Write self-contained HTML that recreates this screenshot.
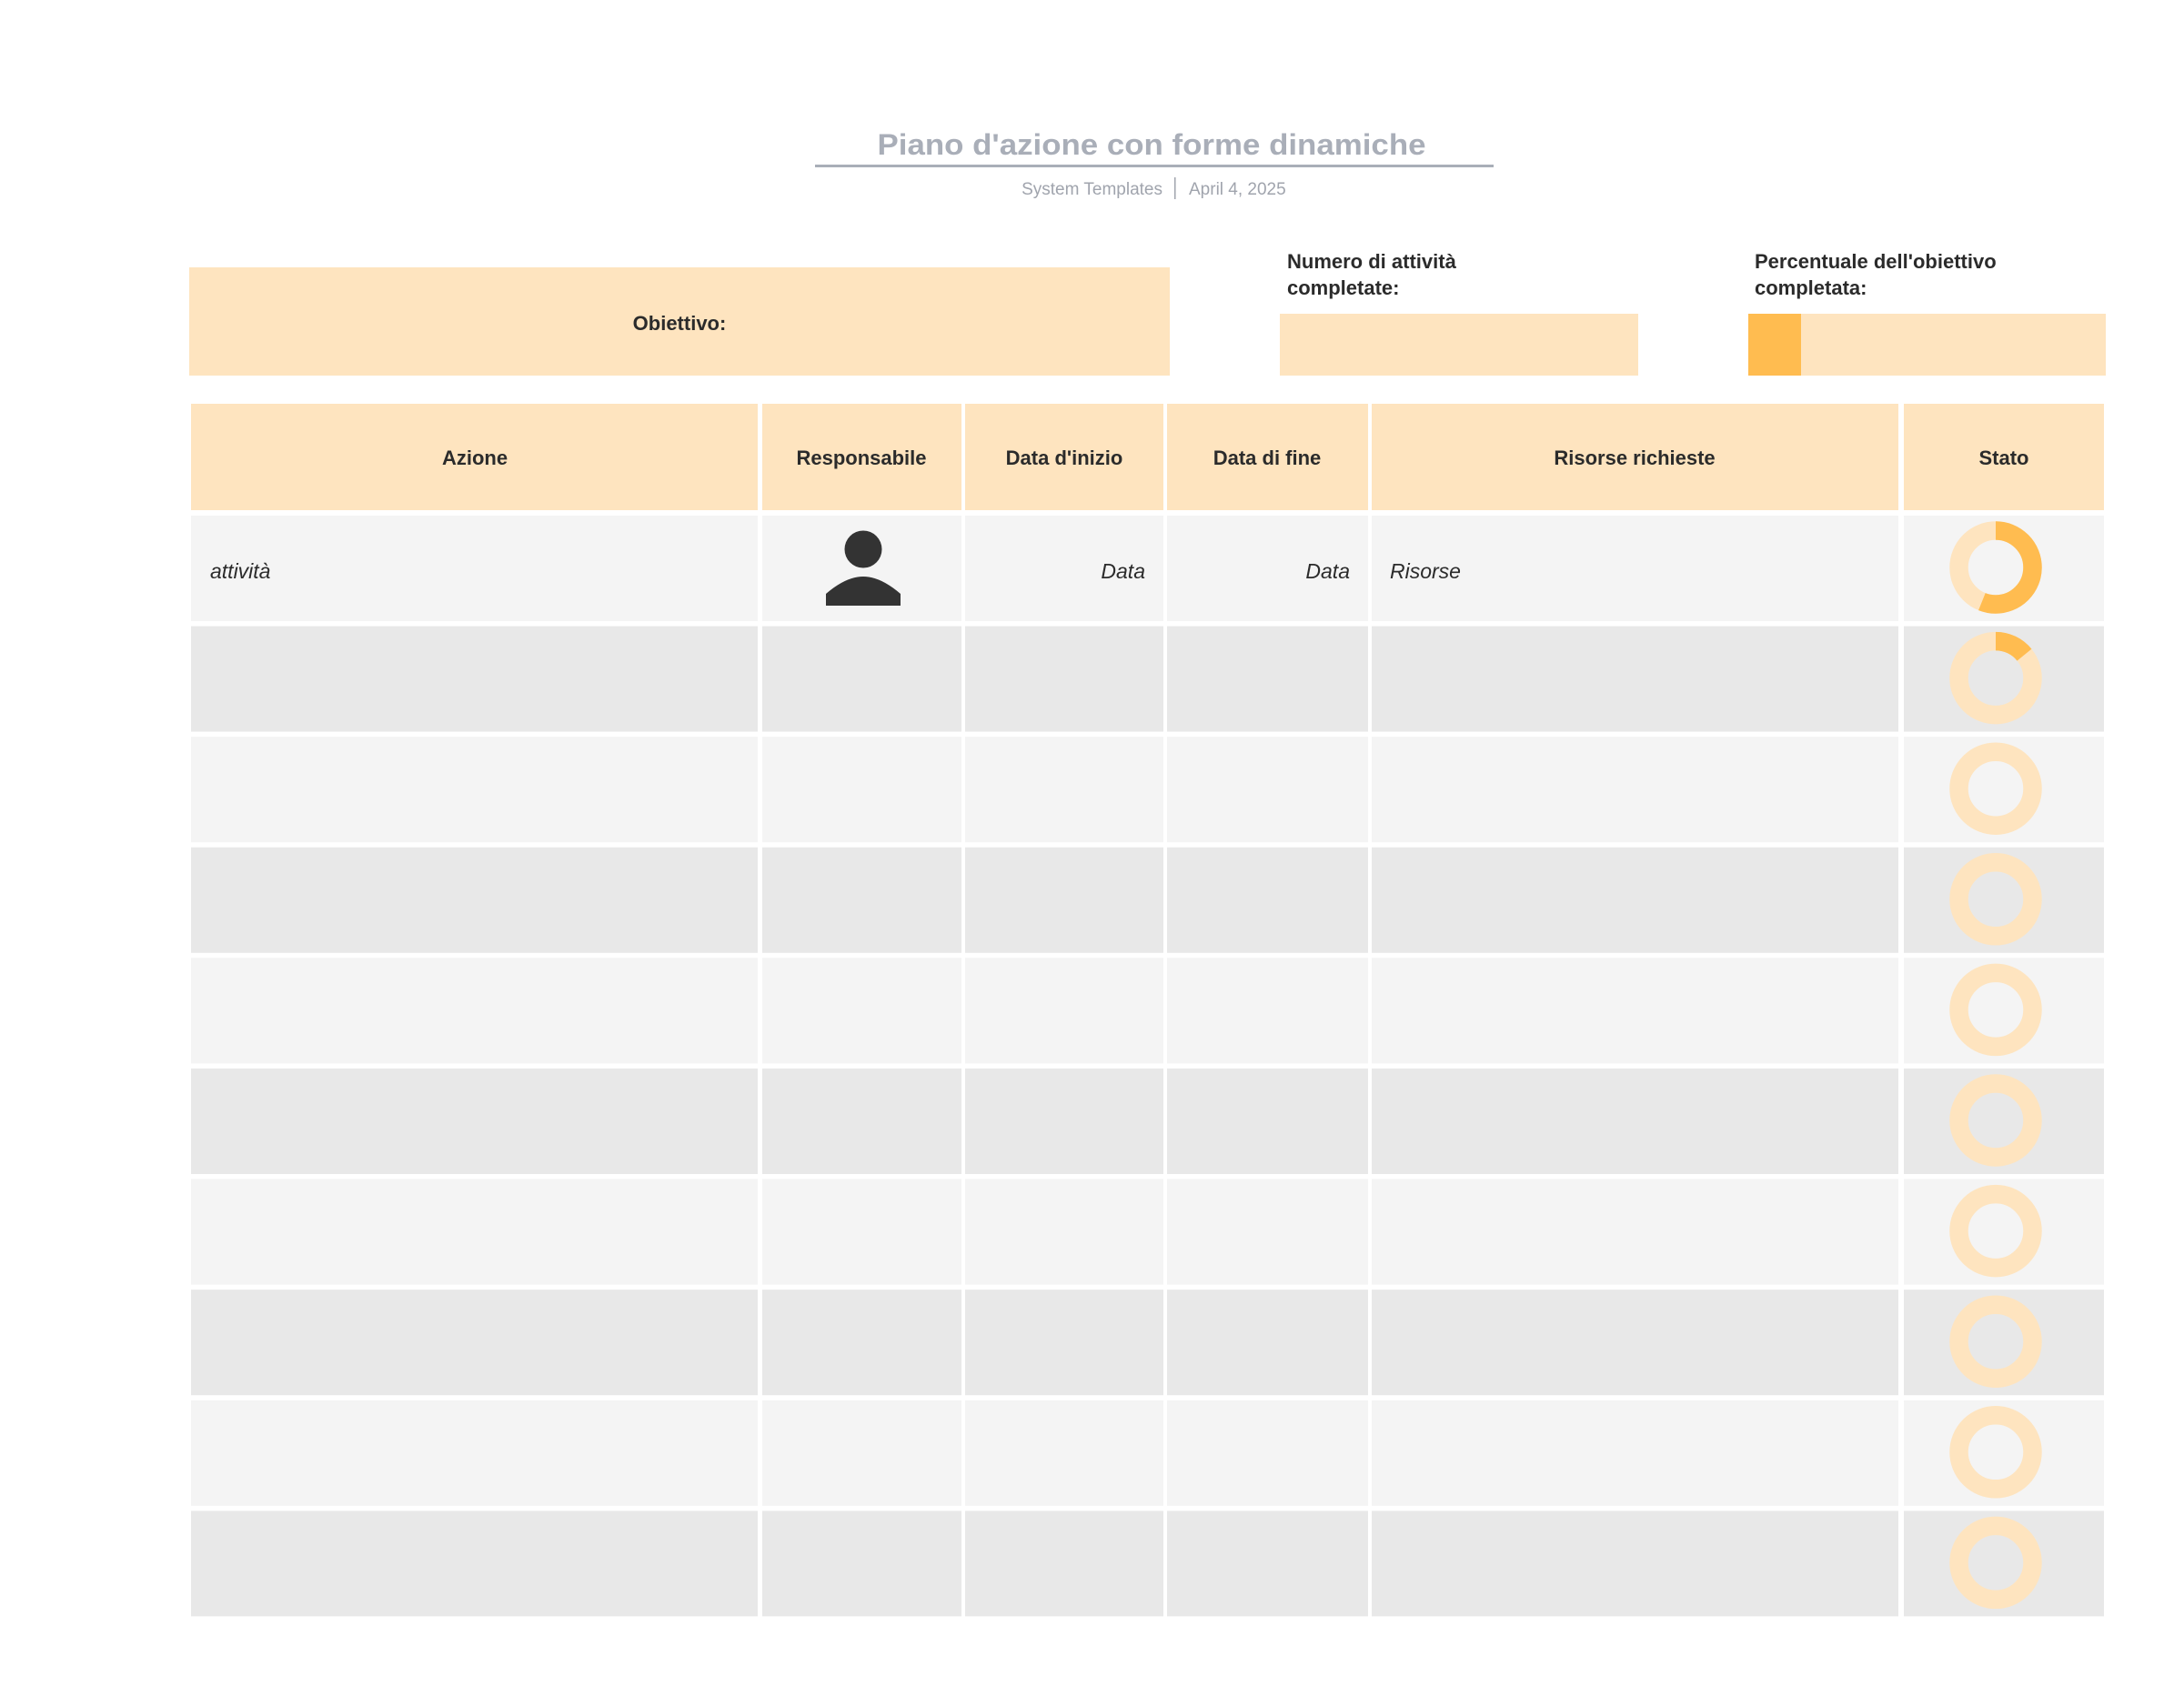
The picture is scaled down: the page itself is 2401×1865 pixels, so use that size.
<!DOCTYPE html>
<html><head><meta charset="utf-8"><style>html,body{margin:0;padding:0;background:#fff}svg{display:block}</style></head>
<body>
<svg xmlns="http://www.w3.org/2000/svg" width="2401" height="1865" viewBox="0 0 2401 1865" font-family="Liberation Sans, sans-serif">
<rect width="2401" height="1865" fill="#fff"/>
<text x="1266" y="170" text-anchor="middle" font-size="32" font-weight="bold" fill="#a9aeb8" textLength="603" lengthAdjust="spacingAndGlyphs">Piano d'azione con forme dinamiche</text>
<rect x="896" y="181" width="746" height="3" fill="#a9aeb8"/>
<text x="1278" y="214" text-anchor="end" font-size="19" fill="#a0a4ad">System Templates</text>
<rect x="1291" y="195" width="1.5" height="24" fill="#a0a4ad"/>
<text x="1307" y="214" font-size="19" fill="#a0a4ad">April 4, 2025</text>

<rect x="208" y="294" width="1078" height="119" fill="#fee4bf"/>
<text x="747" y="363" text-anchor="middle" font-size="22" font-weight="bold" fill="#2b2b2b">Obiettivo:</text>
<text x="1415" y="295" font-size="22" font-weight="bold" fill="#2b2b2b">Numero di attività</text>
<text x="1415" y="324" font-size="22" font-weight="bold" fill="#2b2b2b">completate:</text>
<rect x="1407" y="345" width="394" height="68" fill="#fee4bf"/>
<text x="1929" y="295" font-size="22" font-weight="bold" fill="#2b2b2b">Percentuale dell'obiettivo</text>
<text x="1929" y="324" font-size="22" font-weight="bold" fill="#2b2b2b">completata:</text>
<rect x="1922" y="345" width="393" height="68" fill="#fee4bf"/>
<rect x="1922" y="345" width="58" height="68" fill="#ffbc50"/>

<g fill="#fee4bf">
<rect x="210" y="444" width="623" height="117"/>
<rect x="838" y="444" width="219" height="117"/>
<rect x="1061" y="444" width="218" height="117"/>
<rect x="1283" y="444" width="221" height="117"/>
<rect x="1508" y="444" width="579" height="117"/>
<rect x="2093" y="444" width="220" height="117"/>
</g>
<g font-size="22" font-weight="bold" fill="#2b2b2b" text-anchor="middle">
<text x="522" y="511">Azione</text>
<text x="947" y="511">Responsabile</text>
<text x="1170" y="511">Data d'inizio</text>
<text x="1393" y="511">Data di fine</text>
<text x="1797" y="511">Risorse richieste</text>
<text x="2203" y="511">Stato</text>
</g>

<defs>
<g id="rowL" fill="#f4f4f4">
<rect x="210" y="0" width="623" height="116"/>
<rect x="838" y="0" width="219" height="116"/>
<rect x="1061" y="0" width="218" height="116"/>
<rect x="1283" y="0" width="221" height="116"/>
<rect x="1508" y="0" width="579" height="116"/>
<rect x="2093" y="0" width="220" height="116"/>
</g>
<g id="rowD" fill="#e8e8e8">
<rect x="210" y="0" width="623" height="116"/>
<rect x="838" y="0" width="219" height="116"/>
<rect x="1061" y="0" width="218" height="116"/>
<rect x="1283" y="0" width="221" height="116"/>
<rect x="1508" y="0" width="579" height="116"/>
<rect x="2093" y="0" width="220" height="116"/>
</g>
<circle id="ring" cx="2194" cy="57" r="40.5" fill="none" stroke="#fee4bf" stroke-width="20.5"/>
</defs>

<use href="#rowL" y="567"/>
<use href="#rowD" y="688.6"/>
<use href="#rowL" y="810.2"/>
<use href="#rowD" y="931.8"/>
<use href="#rowL" y="1053.4"/>
<use href="#rowD" y="1175"/>
<use href="#rowL" y="1296.6"/>
<use href="#rowD" y="1418.2"/>
<use href="#rowL" y="1539.8"/>
<use href="#rowD" y="1661.4"/>

<use href="#ring" y="567"/>
<use href="#ring" y="688.6"/>
<use href="#ring" y="810.2"/>
<use href="#ring" y="931.8"/>
<use href="#ring" y="1053.4"/>
<use href="#ring" y="1175"/>
<use href="#ring" y="1296.6"/>
<use href="#ring" y="1418.2"/>
<use href="#ring" y="1539.8"/>
<use href="#ring" y="1661.4"/>

<!-- progress arcs: circumference 2*pi*40.5 = 254.47 -->
<circle cx="2194" cy="624" r="40.5" fill="none" stroke="#ffbc50" stroke-width="20.5" stroke-dasharray="142.5 300" transform="rotate(-90 2194 624)"/>
<circle cx="2194" cy="745.6" r="40.5" fill="none" stroke="#ffbc50" stroke-width="20.5" stroke-dasharray="36 300" transform="rotate(-90 2194 745.6)"/>

<g font-size="23" font-style="italic" fill="#2b2b2b">
<text x="231" y="636">attività</text>
<text x="1259" y="636" text-anchor="end">Data</text>
<text x="1484" y="636" text-anchor="end">Data</text>
<text x="1528" y="636">Risorse</text>
</g>
<circle cx="949" cy="604" r="20.5" fill="#333"/>
<path d="M908 666 L908 653 Q930 634 949 634 Q968 634 990 653 L990 666 Z" fill="#333"/>
</svg>
</body></html>
